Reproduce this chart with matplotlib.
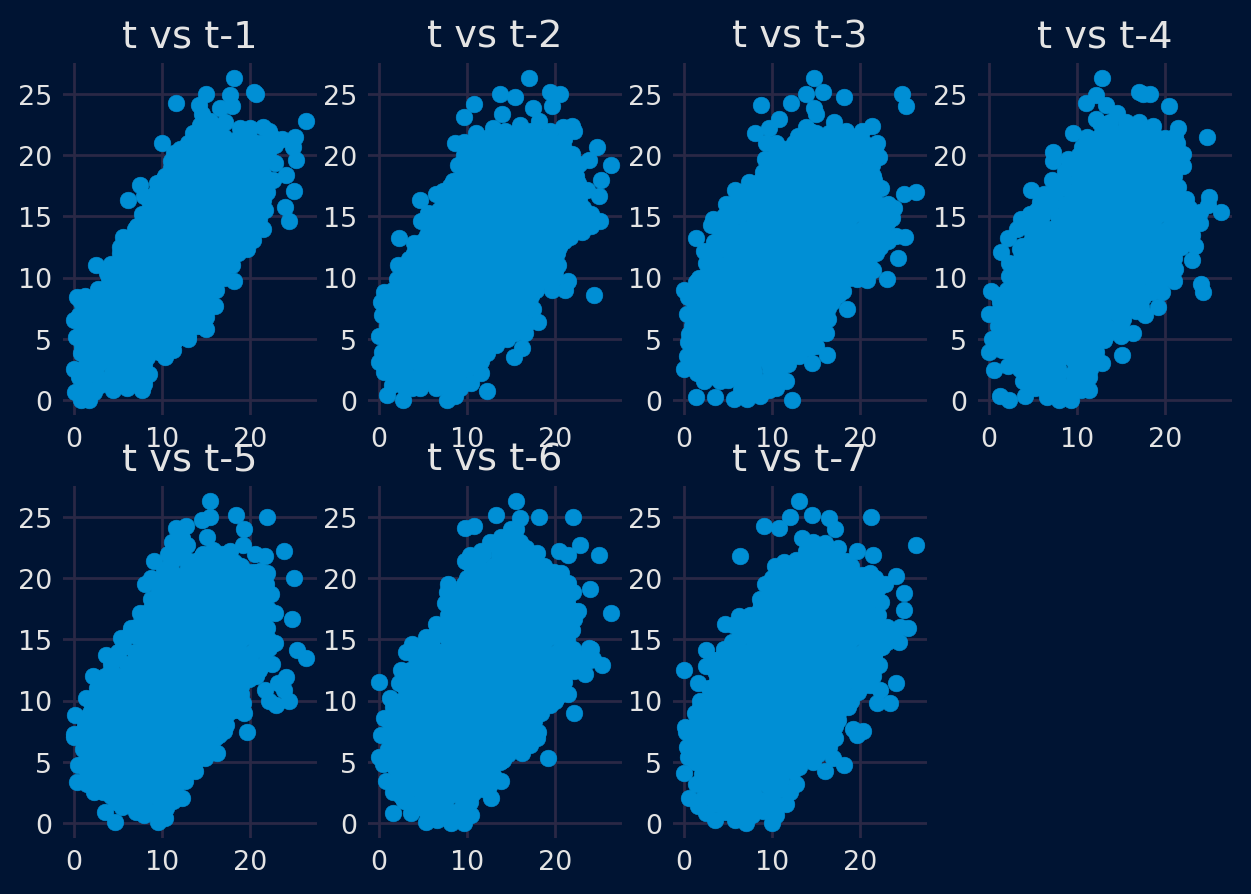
import numpy as np
import matplotlib
matplotlib.use("Agg")
import matplotlib.pyplot as plt

BG = '#001433'
GRID = '#2A2845'
TEXT = '#E4E4E4'
BLUE = '#008FD5'

# points hidden inside every cloud, estimated: (t-k, t)
core = [
    (5.7,2.1),(7.1,1.9),(8.0,2.2),
    (3.0,3.1),(4.5,2.9),(6.0,3.0),(7.6,3.1),
    (2.2,4.0),(3.7,4.1),(5.2,3.9),(6.8,4.0),(8.4,4.1),(9.6,3.9),
    (1.5,5.0),(3.0,5.1),(4.5,4.9),(6.0,5.0),(7.6,5.1),(9.1,5.0),(10.6,4.9),(11.6,5.0),
    (2.2,6.0),(3.7,5.9),(5.3,6.1),(6.8,6.0),(8.4,5.9),(9.9,6.0),(11.4,6.1),(12.6,6.0),
    (1.6,7.0),(3.1,7.1),(4.6,6.9),(6.1,7.0),(7.7,7.1),(9.2,7.0),(10.7,6.9),(12.2,7.0),(13.3,7.1),
    (2.2,8.0),(3.8,7.9),(5.4,8.1),(6.9,8.0),(8.4,7.9),(9.9,8.0),(11.4,8.1),(13.0,8.0),(14.0,7.9),
    (2.9,9.0),(4.5,9.1),(6.0,8.9),(7.6,9.0),(9.1,9.1),(10.6,9.0),(12.1,8.9),(13.7,9.0),(15.0,9.1),
    (4.0,10.0),(5.2,9.9),(6.8,10.1),(8.3,10.0),(9.8,9.9),(11.3,10.0),(12.9,10.1),(14.4,10.0),(15.6,9.9),
    (4.4,11.0),(5.9,11.1),(7.5,10.9),(9.0,11.0),(10.5,11.1),(12.0,11.0),(13.6,10.9),(15.1,11.0),(16.6,11.1),
    (5.2,12.0),(6.7,11.9),(8.2,12.1),(9.7,12.0),(11.2,11.9),(12.8,12.0),(14.3,12.1),(15.8,12.0),(17.3,11.9),
    (6.0,13.0),(7.5,13.1),(9.0,12.9),(10.5,13.0),(12.0,13.1),(13.5,13.0),(15.0,12.9),(16.5,13.0),(18.0,13.1),
    (6.9,14.0),(8.3,13.9),(9.8,14.1),(11.3,14.0),(12.8,13.9),(14.3,14.0),(15.8,14.1),(17.3,14.0),(18.8,13.9),
    (7.8,15.0),(9.1,15.1),(10.6,14.9),(12.1,15.0),(13.6,15.1),(15.1,15.0),(16.6,14.9),(18.1,15.0),(19.2,15.1),
    (8.6,16.0),(10.0,15.9),(11.5,16.1),(13.0,16.0),(14.5,15.9),(16.0,16.0),(17.5,16.1),(19.0,16.0),
    (9.3,17.0),(10.8,17.1),(12.3,16.9),(13.8,17.0),(15.3,17.1),(16.8,17.0),(18.3,16.9),(19.3,17.0),
    (10.1,18.0),(11.6,17.9),(13.1,18.1),(14.6,18.0),(16.1,17.9),(17.6,18.0),(19.1,18.1),
    (11.0,19.0),(12.4,19.1),(13.9,18.9),(15.4,19.0),(16.9,19.1),(18.4,19.0),(19.4,18.9),
    (11.6,20.0),(13.2,19.9),(14.7,20.1),(16.2,20.0),(17.7,19.9),(19.0,20.0),
    (13.0,21.0),(14.5,21.1),(16.0,20.9),(17.5,21.0),
]

core2 = [
    (4.8,2.5),(6.4,2.5),(7.8,2.6),
    (3.7,3.5),(5.3,3.5),(6.9,3.4),(8.3,3.5),
    (3.0,4.5),(4.5,4.5),(6.0,4.4),(7.6,4.5),(9.2,4.5),(10.4,4.6),
    (2.2,5.5),(3.7,5.5),(5.3,5.4),(6.8,5.5),(8.4,5.5),(9.9,5.6),(11.4,5.5),(12.4,5.5),
    (2.4,6.5),(3.9,6.5),(5.4,6.4),(7.0,6.5),(8.5,6.6),(10.0,6.5),(11.6,6.5),(13.0,6.4),
    (2.9,7.5),(4.5,7.5),(6.0,7.4),(7.6,7.5),(9.1,7.6),(10.6,7.5),(12.2,7.5),(13.6,7.4),
    (3.4,8.5),(5.0,8.5),(6.5,8.4),(8.0,8.5),(9.6,8.6),(11.1,8.5),(12.7,8.5),(14.2,8.4),(15.0,8.5),
    (4.0,9.5),(5.6,9.5),(7.1,9.4),(8.7,9.5),(10.2,9.6),(11.7,9.5),(13.3,9.5),(14.8,9.4),(15.5,9.5),
    (4.8,10.5),(6.3,10.5),(7.8,10.4),(9.4,10.5),(10.9,10.6),(12.4,10.5),(14.0,10.5),(15.5,10.4),(16.4,10.5),
    (5.6,11.5),(7.1,11.5),(8.6,11.4),(10.2,11.5),(11.7,11.6),(13.2,11.5),(14.8,11.5),(16.3,11.4),(17.2,11.5),
    (6.3,12.5),(7.8,12.5),(9.3,12.4),(10.9,12.5),(12.4,12.6),(13.9,12.5),(15.5,12.5),(17.0,12.4),(18.0,12.5),
    (7.1,13.5),(8.6,13.5),(10.1,13.4),(11.7,13.5),(13.2,13.6),(14.7,13.5),(16.3,13.5),(17.8,13.4),(18.6,13.5),
    (7.9,14.5),(9.4,14.5),(11.0,14.4),(12.5,14.5),(14.0,14.6),(15.6,14.5),(17.1,14.5),(18.6,14.4),
    (8.8,15.5),(10.2,15.5),(11.8,15.4),(13.3,15.5),(14.8,15.6),(16.4,15.5),(17.9,15.5),(19.2,15.4),
    (9.6,16.5),(11.0,16.5),(12.6,16.4),(14.1,16.5),(15.6,16.6),(17.2,16.5),(18.7,16.5),(19.3,16.4),
    (10.4,17.5),(11.9,17.5),(13.4,17.4),(14.9,17.5),(16.4,17.6),(18.0,17.5),(19.3,17.5),
    (11.3,18.5),(12.7,18.5),(14.2,18.4),(15.7,18.5),(17.3,18.6),(18.8,18.5),
    (12.0,19.5),(13.5,19.5),(15.0,19.4),(16.5,19.5),(18.0,19.6),(19.3,19.5),
    (12.8,20.5),(14.2,20.5),(15.8,20.4),(17.3,20.5),(18.8,20.6),
    (15.0,21.5),(16.5,21.5),
]

lag1 = [
    (18.2,26.3),(20.5,25.2),(20.7,25.0),(11.6,24.3),(15.0,25.0),(17.7,24.9),(18.0,24.0),(16.6,23.9),
    (14.2,24.1),(14.5,23.4),(15.4,22.8),(17.1,22.7),(26.3,22.8),(25.1,21.5),(23.6,21.3),(24.9,20.7),
    (25.2,19.6),(24.1,18.4),(25.0,17.1),(24.0,15.8),(24.4,14.6),(21.5,22.3),(22.2,22.0),(18.8,22.2),
    (20.0,22.2),(15.0,21.7),(13.3,21.1),(10.0,21.0),(11.4,20.2),(11.1,19.1),(9.4,17.7),(7.5,17.6),
    (8.0,16.7),(6.1,16.3),(7.7,15.2),(7.1,14.2),(5.6,13.3),(5.2,12.5),(4.2,11.1),(2.5,11.0),(3.7,10.4),
    (2.7,9.1),(1.3,8.5),(0.3,8.4),(0.8,8.0),(0.0,6.5),(0.2,5.1),(0.8,3.8),(0.0,2.5),(0.6,1.9),(0.1,0.6),
    (0.8,0.0),(1.7,0.0),(2.3,0.6),(4.4,0.8),(7.7,0.8),(8.5,2.1),(7.9,2.9),(10.3,3.5),(11.2,4.1),(13.0,5.2),
    (15.0,5.8),(16.0,7.7),(16.1,9.0),(18.2,9.7),(16.9,10.7),(19.7,12.3),(20.3,13.1),(21.5,14.0),(21.7,15.5),
    (21.9,17.0),(22.6,18.0),(22.8,19.4),(22.8,20.8),
    (1.5,1.0),(3.0,1.2),(1.0,2.5),(2.5,2.0),(4.0,1.5),(5.5,1.2),(7.0,1.5),(1.2,3.8),(0.8,5.5),(0.6,6.9),
    (1.3,8.0),(12.9,5.0),(14.0,6.0),(14.7,7.0),(15.3,8.0),(17.0,10.0),(18.0,11.0),(18.6,12.0),(19.3,13.1),
    (20.2,14.0),(20.5,15.0),(20.7,16.0),(21.0,17.0),(21.0,18.0),(21.0,19.0),(21.5,20.0),(21.0,21.0),
    (14.0,21.5),(15.5,21.8),(17.0,21.5),(18.5,21.3),(20.0,21.3),(21.5,21.0),(22.3,21.0),(19.5,14.5),
    (9.5,17.0),(10.3,18.3),(12.0,20.5),(11.0,19.5),(2.0,3.0),(4.3,2.2),
    (1.5,2.0),(3.0,3.0),(1.5,3.2),(0.9,4.4),(1.5,6.0),(2.2,7.4),(1.2,7.2),(2.8,1.8),(5.3,1.8),(6.0,1.0),(8.0,1.3),
    (9.8,4.4),(11.5,4.9),(13.0,5.8),(14.2,6.6),(15.0,6.8),(15.2,7.5),(15.3,8.5),(16.0,9.5),(16.6,10.3),(17.3,11.2),
    (18.0,11.8),(18.6,12.7),(19.3,13.7),(19.8,14.2),(20.2,15.5),(20.2,16.5),(20.3,17.5),(20.2,18.5),(20.3,19.5),
    (20.2,20.5),(19.5,21.3),(21.5,18.5),(21.7,19.5),(22.0,20.3),(21.8,17.5),(21.5,16.3),(21.0,14.8),(22.5,21.5),
    (19.8,19.8),(12.8,20.7),(13.5,21.8),(16.3,22.2),(16.5,21.0),(18.0,20.7),(14.3,22.5),
]

lag2 = [
    (17.0,26.3),(13.7,25.0),(15.5,24.8),(19.4,25.2),(20.6,25.0),(19.7,24.0),(17.5,23.9),(10.8,24.2),
    (9.6,23.1),(11.0,21.8),(8.6,21.0),(9.7,21.1),(14.0,23.4),(13.0,22.2),(16.0,22.5),(18.2,22.8),
    (19.4,22.0),(20.9,22.3),(21.9,22.4),(22.1,22.0),(21.9,20.1),(24.8,20.7),(23.9,19.6),(26.3,19.2),
    (25.2,18.0),(25.0,16.7),(23.6,17.2),(22.4,18.3),(24.1,15.2),(25.1,14.6),(24.1,14.2),(23.0,13.7),
    (21.7,13.3),(20.3,11.0),(21.5,9.7),(21.1,9.0),(19.7,9.0),(24.4,8.6),(18.1,6.4),(17.5,7.4),(16.6,5.5),
    (16.2,4.2),(15.3,3.5),(13.3,4.5),(11.6,3.2),(11.6,2.2),(10.4,1.4),(12.3,0.7),(8.6,0.3),(7.7,0.0),
    (6.5,1.0),(4.6,1.0),(2.7,0.0),(0.9,0.4),(0.6,2.3),(0.0,3.1),(0.3,3.9),(0.0,5.2),(0.3,6.9),(0.2,8.0),
    (0.6,8.8),(2.3,9.5),(2.2,11.0),(2.3,13.2),(4.0,12.8),(4.8,14.6),(4.6,16.3),(6.5,16.8),(7.3,17.1),
    (5.6,15.3),(9.0,19.2),(8.4,17.9),
    (2.0,2.0),(3.5,1.8),(1.5,1.2),(3.0,1.0),(5.0,2.2),(9.0,1.8),(10.0,2.5),(1.5,3.0),(9.5,3.0),(10.7,3.2),
    (1.0,4.2),(11.0,4.0),(12.2,4.3),(0.8,5.5),(13.0,5.0),(14.5,5.0),(15.5,5.5),(0.9,6.0),(14.0,6.0),
    (15.5,6.0),(16.8,6.3),(1.0,7.0),(14.7,7.0),(16.0,7.0),(1.0,8.0),(15.5,8.0),(17.0,8.0),(1.6,9.0),
    (16.4,9.0),(17.8,9.0),(2.8,10.0),(17.0,10.0),(18.5,10.0),(20.0,10.0),(3.2,11.0),(18.0,11.0),(19.5,11.0),
    (4.0,12.0),(18.7,12.0),(20.2,12.0),(5.0,13.0),(19.5,13.0),(21.0,13.0),(5.7,14.0),(20.2,14.0),(21.7,14.0),
    (23.0,14.4),(6.5,15.0),(20.6,15.0),(22.0,15.0),(23.4,15.3),(7.3,16.0),(20.5,16.0),(22.0,16.0),(8.0,17.0),
    (20.8,17.0),(22.3,17.0),(9.0,18.0),(20.5,18.0),(22.0,18.0),(9.7,19.0),(20.9,19.0),(22.3,19.0),(10.1,20.0),
    (20.5,20.0),(11.5,21.0),(18.7,21.0),(20.5,21.0),(14.3,22.0),(15.8,22.0),(17.3,22.0),(12.5,21.5),
    (2.7,1.2),(3.8,1.0),(4.5,1.8),(2.3,3.0),(3.0,2.4),(1.3,3.7),(0.9,4.6),(2.0,4.8),(1.0,6.5),(1.2,7.5),(1.0,8.4),
    (2.0,9.9),(2.6,10.8),(3.4,11.5),(4.3,12.5),(5.4,13.5),(6.0,14.5),(6.8,15.5),(7.4,16.5),(8.1,17.5),(9.6,18.5),
    (9.7,20.0),(10.8,20.6),(5.5,1.5),(7.7,1.0),(9.2,1.0),(9.5,2.5),(8.7,2.8),(10.0,3.5),(10.5,4.5),(11.5,5.0),
    (12.3,3.8),(13.5,5.5),(14.8,5.5),(14.8,6.5),(16.0,6.5),(15.2,7.5),(16.5,7.5),(15.8,8.5),(17.3,8.5),(16.5,9.5),
    (18.0,9.5),(19.3,9.7),(17.3,10.5),(18.8,10.5),(20.0,10.5),(18.0,11.5),(19.5,11.6),(19.0,12.5),(20.5,12.5),
    (19.7,13.5),(21.2,13.6),(22.3,13.9),(20.2,14.5),(21.8,14.5),(20.7,15.5),(22.3,15.5),(23.2,15.7),(21.2,16.4),
    (22.7,16.4),(21.3,17.5),(22.6,17.7),(21.2,18.5),(21.2,19.5),(22.7,19.3),(21.0,20.5),(19.5,20.5),(19.3,21.5),
    (21.0,21.3),(13.5,21.5),(15.0,21.5),(16.5,21.5),(18.0,21.6),(11.7,20.3),(11.0,19.8),(10.0,18.7),(12.7,20.7),
]

lag3 = [
    (14.8,26.3),(15.8,25.2),(13.9,25.0),(18.2,24.8),(12.1,24.3),(8.8,24.1),(24.8,25.0),(25.2,24.0),
    (14.8,23.9),(15.0,23.4),(10.8,23.0),(9.7,22.2),(8.1,21.8),(9.3,21.0),(21.3,22.4),(20.2,22.0),(17.0,22.7),
    (18.4,22.0),(13.9,22.3),(21.9,21.0),(22.1,19.9),(21.5,18.3),(22.4,17.3),(25.0,16.8),(26.3,17.0),(23.9,15.7),
    (23.6,14.9),(24.1,13.4),(25.1,13.3),(24.3,11.6),(23.0,9.9),(21.5,10.6),(20.8,9.8),(19.6,9.9),(18.1,8.9),
    (18.5,7.4),(16.4,7.5),(16.3,6.6),(16.1,5.5),(16.2,3.7),(15.0,4.4),(14.5,3.0),(13.1,3.6),(11.8,2.9),(11.6,1.5),
    (12.3,0.0),(9.7,0.8),(8.6,0.3),(7.2,0.1),(5.7,0.1),(3.5,0.2),(1.4,0.2),(4.1,1.5),(2.3,1.5),(6.5,0.8),(0.0,2.5),
    (0.3,3.6),(0.5,4.7),(0.6,5.4),(0.3,7.0),(0.0,9.0),(0.5,8.4),(1.4,9.6),(2.5,11.2),(2.3,12.2),(1.4,13.2),
    (3.4,12.9),(3.1,14.3),(3.3,14.8),(4.8,16.0),(5.8,17.2),(7.4,17.8),(9.5,18.9),(9.2,19.7),
    (1.5,3.0),(2.5,2.3),(4.2,2.4),(1.7,4.5),(3.5,1.9),(0.8,2.8),(9.5,1.6),(9.8,2.5),(10.8,2.2),(9.5,3.1),(11.0,3.3),
    (10.8,4.2),(12.2,4.2),(13.5,4.5),(12.6,5.2),(14.0,5.0),(15.2,5.5),(14.0,6.0),(15.4,6.2),(14.8,7.0),(16.0,7.2),
    (15.3,8.0),(16.8,8.0),(16.5,9.0),(17.5,9.4),(17.2,10.0),(18.7,10.0),(18.0,11.0),(19.5,11.0),(21.0,11.0),
    (18.8,12.0),(20.3,12.0),(21.8,12.0),(22.5,12.8),(19.5,13.0),(21.0,13.0),(22.8,13.5),(20.2,14.0),(21.7,14.0),
    (23.0,14.5),(20.6,15.0),(22.1,15.0),(20.5,16.0),(22.0,16.0),(23.2,16.0),(20.8,17.0),(21.5,17.0),(20.5,18.0),
    (20.9,19.0),(20.5,20.0),(19.0,21.0),(20.5,21.0),(18.0,21.8),(16.5,21.8),(15.0,21.8),(12.5,21.0),(11.0,20.5),
    (0.9,6.0),(1.0,7.2),(1.1,8.0),(2.0,9.0),(2.6,10.3),(3.8,11.0),(3.7,12.2),(4.0,13.0),(5.0,13.0),(4.0,14.0),
    (5.5,14.0),(4.5,15.0),(6.3,15.0),(5.5,16.0),(7.2,16.0),(6.5,17.0),(8.0,17.0),(8.8,18.0),(9.9,19.4),(10.3,20.0),
    (10.5,21.0),
    (1.5,2.2),(1.0,3.3),(2.5,3.3),(1.5,3.9),(3.3,2.8),(5.0,1.6),(6.5,1.5),(8.0,1.0),(9.0,1.4),(10.5,1.0),(2.0,5.3),
    (1.6,6.0),(1.4,6.9),(1.8,7.7),(1.2,8.9),(2.5,9.3),(1.7,10.0),(2.9,10.9),(3.1,11.8),(4.2,13.5),(4.9,14.5),(5.5,15.1),
    (6.3,16.2),(7.3,16.9),(7.8,17.5),(9.0,18.6),(10.0,19.0),(9.9,3.7),(10.9,4.9),(12.0,3.6),(13.2,5.7),(14.6,5.7),
    (14.2,4.2),(14.6,6.6),(15.6,7.9),(15.0,7.6),(16.2,8.5),(17.5,8.6),(16.5,9.8),(18.0,9.8),(18.2,10.6),(19.8,10.5),
    (20.5,11.6),(19.3,12.6),(20.9,12.6),(22.3,12.5),(20.0,13.6),(21.6,13.4),(23.2,13.0),(22.5,14.4),(21.1,14.5),
    (21.5,15.5),(22.8,15.4),(21.5,16.5),(20.5,17.5),(21.6,18.0),(21.3,19.2),(21.0,20.0),(21.7,20.5),(20.0,20.5),
    (19.5,21.5),(17.2,21.2),(15.7,21.0),(14.3,22.0),(13.0,21.6),(11.5,20.5),(12.0,19.9),
]

lag4 = [
    (12.8,26.3),(12.1,24.9),(11.0,24.3),(12.1,23.0),(13.3,24.1),(14.5,23.5),(17.0,25.2),(17.5,25.0),(18.3,25.0),
    (20.4,24.0),(9.5,21.8),(11.1,21.5),(7.3,20.3),(7.3,19.5),(9.0,19.7),(7.1,18.0),(4.8,17.2),(6.3,16.8),(4.6,15.2),
    (3.6,14.8),(3.2,14.0),(2.2,13.2),(1.4,12.1),(3.5,12.3),(2.3,11.2),(2.3,10.1),(0.2,8.9),(1.0,8.6),(0.0,7.0),
    (0.3,5.0),(0.0,3.9),(0.6,2.4),(2.2,2.8),(1.5,4.1),(1.3,0.3),(2.3,0.0),(4.1,0.3),(4.2,1.5),(5.2,1.0),(6.6,0.2),
    (8.0,0.0),(9.3,0.0),(11.4,0.8),(11.4,1.9),(12.8,3.0),(15.1,3.7),(12.2,3.9),(13.1,4.9),(15.0,5.2),(16.3,5.5),
    (17.7,6.9),(19.2,7.6),(16.7,7.3),(19.6,8.8),(17.9,8.8),(21.0,9.7),(21.1,10.7),(24.1,9.5),(24.3,8.8),(23.0,11.4),
    (23.4,12.6),(24.0,14.5),(24.8,21.5),(25.0,16.6),(26.3,15.4),(24.9,15.9),(22.4,16.4),(21.5,17.4),(22.0,19.1),
    (22.0,20.1),(21.3,21.0),(21.5,22.2),(21.1,21.6),(20.3,20.4),(18.6,22.4),(18.3,22.0),(17.0,22.7),(15.6,22.7),
    (18.3,20.5),(13.7,22.7),(12.6,21.6),
    (3.5,2.5),(3.2,3.5),(2.8,4.5),(1.5,5.3),(1.0,6.0),(1.0,7.2),(1.2,8.0),(2.0,9.0),(2.9,10.0),(3.4,11.0),(3.8,12.0),
    (4.8,13.0),(5.5,14.0),(6.0,15.0),(7.0,16.0),(7.6,17.0),(8.5,18.0),(9.5,19.0),(10.2,20.0),(11.0,21.0),
    (5.5,1.8),(4.3,2.3),(6.8,1.0),(8.2,1.2),(9.7,1.0),(10.3,1.9),(9.5,2.2),(10.9,2.9),(9.6,3.2),(11.0,4.1),(12.3,5.2),
    (13.6,5.9),(15.0,6.2),(14.5,7.0),(15.5,8.0),(16.8,8.0),(16.4,9.0),(17.0,10.0),(18.5,9.8),(20.0,10.0),(18.0,11.0),
    (19.5,11.0),(21.0,11.6),(18.8,12.0),(20.3,12.5),(21.8,12.5),(19.5,13.0),(21.0,13.4),(22.5,13.4),(20.2,14.0),
    (21.7,14.2),(23.0,14.2),(20.6,15.0),(22.1,15.0),(23.4,15.3),(20.5,16.0),(22.0,16.0),(20.8,17.0),(20.5,18.0),
    (20.9,19.0),(20.5,20.0),(18.7,21.0),(20.0,21.4),(17.5,21.8),(16.0,21.8),(14.5,21.8),(12.5,21.0),(11.0,20.5),
    (3.9,1.5),(6.0,1.0),(7.4,0.9),(8.8,0.7),(10.5,0.8),(9.6,1.5),(10.7,2.5),(3.7,3.0),(2.4,3.9),(2.2,5.4),(1.6,5.9),
    (1.8,6.6),(1.7,7.6),(2.6,8.5),(2.7,9.5),(3.3,10.5),(3.6,11.6),(3.7,12.6),(4.7,12.5),(5.0,13.5),(4.6,14.0),(5.7,14.5),
    (6.2,15.5),(5.5,15.5),(5.8,16.2),(7.3,16.8),(8.0,17.5),(8.6,18.7),(10.0,19.0),(10.6,20.7),(10.5,3.5),(11.5,2.5),
    (11.8,3.0),(12.0,4.6),(13.4,5.4),(14.5,5.6),(15.2,6.6),(14.7,7.5),(16.0,7.5),(17.3,7.6),(15.9,8.5),(17.5,8.4),
    (16.8,9.3),(18.5,8.8),(19.3,9.5),(17.5,10.4),(19.3,10.5),(20.7,10.5),(18.5,11.5),(20.0,11.6),(19.3,12.7),(20.8,12.5),
    (20.0,13.6),(22.0,12.9),(23.0,13.5),(21.0,14.5),(22.5,14.7),(23.5,14.5),(21.2,15.5),(22.7,15.7),(24.0,15.4),
    (21.3,16.5),(20.8,17.5),(21.0,18.3),(21.2,19.5),(21.2,20.3),(19.5,20.3),(19.0,21.5),(17.0,21.3),(15.5,21.5),
    (14.0,21.4),(13.0,21.8),(11.8,20.7),(12.6,22.6),
]

lag5 = [
    (15.4,26.3),(14.5,24.8),(15.5,25.0),(18.4,25.2),(19.3,24.0),(21.9,25.0),(15.1,23.4),(19.2,22.7),(20.6,22.0),
    (21.7,21.8),(23.9,22.2),(25.0,20.0),(24.8,16.7),(25.3,14.1),(26.3,13.5),(24.1,11.9),(23.2,11.4),(23.9,10.9),
    (24.4,10.0),(22.9,9.6),(22.2,10.0),(21.7,10.9),(19.3,9.0),(18.3,9.2),(19.2,9.8),(19.7,7.4),(17.0,7.5),(16.2,5.7),
    (14.9,5.3),(13.7,4.2),(12.6,3.4),(12.3,2.0),(10.3,0.4),(9.5,0.1),(8.0,0.6),(6.7,1.4),(4.6,0.1),(3.5,0.9),(5.4,1.3),
    (2.3,2.5),(0.3,3.3),(0.4,4.7),(0.0,7.3),(0.0,7.0),(0.1,8.8),(1.4,10.2),(2.2,12.0),(3.6,13.7),(5.3,15.1),(6.5,15.9),
    (7.5,17.2),(8.7,18.3),(8.1,19.5),(8.8,20.0),(9.1,21.4),(10.7,22.0),(11.1,23.0),(11.6,24.1),(12.7,24.3),(12.8,22.7),
    (14.1,21.5),(15.8,22.3),(17.7,22.2),(18.6,20.8),(21.9,20.4),(21.1,20.6),(22.4,18.7),(22.8,17.2),(20.2,19.2),
    (22.8,14.7),(22.5,13.0),(21.9,15.9),(21.7,17.0),
    (1.5,3.2),(3.3,2.5),(1.2,5.0),(1.0,6.0),(1.0,7.2),(1.2,8.2),(1.8,9.0),(2.8,10.0),(2.6,11.0),(3.5,12.0),(4.2,13.0),
    (5.0,14.0),(5.7,15.0),(7.0,16.0),(7.9,17.0),(9.0,18.0),(9.6,19.0),(10.0,20.0),(10.8,21.0),(12.0,22.0),(11.5,22.2),
    (4.8,1.7),(4.2,2.2),(4.6,3.0),(6.5,1.8),(8.0,1.5),(9.5,1.0),(10.5,1.2),(9.5,2.0),(10.9,2.2),(11.2,1.8),(9.5,3.0),
    (11.0,3.2),(11.0,4.0),(12.0,4.0),(12.5,5.0),(13.7,5.0),(14.0,6.0),(15.2,6.1),(14.8,7.0),(16.0,6.9),(15.3,8.0),
    (16.9,8.3),(16.4,9.0),(17.5,9.0),(17.0,10.0),(18.5,10.2),(18.0,11.0),(19.0,11.2),(18.8,12.0),(19.9,11.8),(19.5,13.0),
    (21.0,12.5),(20.2,14.0),(21.7,14.0),(20.6,15.0),(22.0,15.0),(20.5,16.0),(20.8,17.0),(20.5,18.0),(21.5,18.0),
    (20.9,19.0),(21.8,19.5),(20.5,20.0),(19.0,21.0),(17.5,21.5),(16.0,21.5),(14.5,21.8),
    (2.5,3.5),(1.5,4.2),(2.5,4.5),(1.5,6.0),(2.0,5.5),(1.5,7.0),(2.0,7.6),(1.0,7.5),(2.6,8.5),(2.0,9.6),(3.1,9.6),(3.3,10.5),
    (3.5,11.2),(4.3,11.9),(4.2,12.5),(5.0,13.5),(5.6,14.4),(6.4,15.5),(7.0,15.3),(7.9,16.4),(8.6,17.4),(9.8,18.4),(9.3,19.6),
    (10.5,19.5),(10.2,20.7),(11.2,21.5),(11.2,20.4),(12.8,21.5),(13.5,21.0),(12.3,23.3),(11.9,23.3),(5.5,2.4),(5.8,2.0),
    (7.0,0.9),(7.8,2.0),(9.0,0.9),(9.0,2.4),(10.4,2.7),(11.5,2.7),(11.7,3.5),(12.3,4.5),(13.0,4.8),(13.3,5.7),(14.6,5.7),
    (14.8,6.5),(15.5,6.3),(15.3,7.5),(16.5,7.2),(16.0,8.5),(17.3,8.0),(16.7,9.5),(18.2,9.9),(17.5,10.5),(19.0,10.5),(18.3,11.5),
    (18.8,11.8),(19.2,12.5),(20.7,12.0),(20.0,13.5),(21.6,13.0),(21.0,14.5),(22.2,14.3),(21.3,15.5),(21.0,16.5),(21.6,16.3),
    (20.8,17.5),(22.0,17.5),(21.2,18.5),(21.0,19.7),(19.7,20.5),(20.3,20.5),(18.2,21.3),(17.0,21.0),(15.3,21.0),(16.8,22.0),(14.6,22.0),
]

lag6 = [
    (15.6,26.3),(13.3,25.2),(16.0,24.9),(18.2,25.0),(22.0,25.0),(15.6,24.0),(10.8,24.3),(9.8,24.1),(22.8,22.7),(25.0,21.9),
    (21.5,21.9),(20.5,22.2),(24.0,19.1),(26.3,17.2),(22.6,17.3),(22.0,18.9),(21.5,19.6),(20.7,20.4),(18.0,22.1),(16.7,22.5),
    (13.9,23.4),(12.6,23.0),(15.0,24.0),(11.6,22.2),(10.3,21.9),(9.8,21.4),(9.6,19.5),(7.8,19.5),(7.5,18.0),(7.7,18.9),
    (6.5,16.3),(5.3,15.2),(3.7,14.6),(3.1,14.0),(2.5,12.5),(2.3,11.4),(0.0,11.5),(1.3,10.2),(0.6,8.6),(0.2,7.2),(0.0,5.4),
    (0.4,4.8),(0.8,3.4),(1.6,2.5),(1.6,0.8),(3.6,0.8),(5.3,0.1),(6.6,0.2),(8.2,0.0),(9.6,0.0),(10.5,0.6),(10.3,1.7),(12.7,2.0),
    (13.9,3.4),(11.8,2.8),(14.1,5.1),(16.2,5.7),(19.2,5.3),(17.9,6.9),(18.1,7.4),(17.1,6.4),(18.4,9.0),(19.4,9.6),(21.5,10.5),
    (22.2,9.0),(20.5,11.3),(22.2,12.4),(23.4,12.2),(25.3,12.9),(24.1,14.2),(23.8,14.3),(22.0,14.2),(21.9,15.8),(22.2,16.7),
    (2.0,3.5),(3.2,2.5),(2.5,2.2),(4.2,1.5),(1.8,4.5),(1.0,6.0),(1.0,7.2),(1.2,8.2),(1.8,9.0),(2.5,10.0),(3.0,11.0),(3.8,12.0),
    (4.5,13.0),(5.0,14.0),(6.0,15.0),(7.2,16.0),(7.8,17.0),(8.8,18.0),(9.2,19.0),(10.0,20.0),(10.5,21.0),(11.8,22.0),
    (6.2,1.2),(7.6,1.2),(9.0,1.0),(9.5,1.8),(9.5,3.0),(11.0,3.2),(11.7,4.0),(12.5,4.5),(12.5,5.0),(13.7,5.0),(14.0,6.0),
    (15.4,6.3),(14.8,7.0),(16.2,7.0),(15.4,8.0),(17.0,8.0),(16.4,9.0),(17.5,9.0),(17.0,10.0),(18.6,10.0),(20.0,10.0),(18.0,11.0),
    (19.3,11.0),(18.8,12.0),(20.3,12.0),(21.0,12.4),(19.5,13.0),(21.0,13.0),(22.5,13.2),(24.0,13.3),(20.2,14.0),(21.5,14.0),
    (23.0,13.5),(20.6,15.0),(21.3,15.0),(20.5,16.0),(20.8,17.0),(21.7,17.5),(20.5,18.0),(21.3,18.2),(20.7,19.0),(20.0,20.0),
    (18.7,21.0),(17.0,21.5),(15.5,21.8),(14.0,22.0),(14.5,22.8),(16.0,23.0),(13.5,22.5),(17.5,22.0),(15.5,23.0),(11.2,21.0),
    (12.0,20.5),
    (2.4,3.0),(2.8,1.8),(3.5,1.5),(5.0,1.2),(5.5,0.9),(7.2,0.7),(8.8,0.5),(10.0,1.0),(2.7,3.9),(1.3,5.2),(1.9,5.5),(1.8,6.4),
    (1.9,7.5),(1.4,7.3),(2.4,8.5),(1.6,9.5),(2.6,9.7),(3.3,10.5),(3.4,11.3),(3.5,12.5),(4.3,12.2),(4.2,13.5),(5.4,13.5),(4.8,14.5),
    (6.0,14.5),(6.5,15.5),(7.5,15.4),(8.0,16.5),(8.3,17.5),(9.4,18.0),(10.2,19.0),(10.7,20.0),(11.2,21.5),(9.5,2.4),(10.7,2.4),
    (10.7,3.7),(12.0,3.5),(12.5,3.0),(13.0,3.9),(13.2,5.6),(14.7,5.6),(15.0,6.7),(16.5,6.3),(15.3,7.6),(16.8,7.5),(15.9,8.5),
    (17.6,8.3),(16.7,9.5),(18.2,9.5),(17.5,10.5),(19.3,10.4),(20.3,10.4),(18.3,11.5),(19.6,11.7),(21.0,11.5),(19.2,12.5),(20.7,12.5),
    (20.0,13.5),(21.5,13.6),(23.0,13.0),(24.3,13.4),(21.0,14.5),(20.9,15.5),(20.9,16.5),(21.1,17.5),(20.8,18.5),(21.0,19.2),
    (19.9,20.5),(19.5,19.7),(18.2,20.7),(16.5,22.2),(15.0,22.5),(13.6,21.8),(14.6,21.4),(16.2,21.2),(17.8,21.3),
]

lag7 = [
    (13.1,26.3),(12.0,25.0),(14.5,25.2),(16.5,24.9),(17.2,24.0),(21.2,25.0),(10.8,24.1),(9.1,24.3),(13.4,23.3),(14.7,23.0),
    (16.0,22.9),(6.4,21.8),(26.3,22.7),(17.5,22.5),(19.7,22.2),(21.5,21.9),(18.4,21.4),(24.1,20.2),(25.0,18.8),(25.0,17.4),
    (22.8,19.5),(25.4,15.9),(24.4,14.8),(23.0,14.8),(22.4,18.1),(22.0,17.0),(21.1,20.4),(20.2,20.3),(21.7,20.0),(24.1,11.4),
    (22.2,12.9),(22.3,10.9),(23.4,9.8),(21.9,9.8),(21.1,11.3),(19.8,10.7),(18.6,9.5),(19.2,7.7),(19.6,7.2),(20.3,7.5),(17.2,7.9),
    (17.1,6.9),(16.5,6.2),(18.2,4.7),(16.9,5.3),(16.0,4.2),(14.7,5.0),(13.1,4.6),(12.7,3.2),(11.6,1.5),(10.5,0.6),(10.0,0.0),
    (8.6,1.9),(7.7,0.6),(7.0,0.0),(5.8,0.2),(4.6,0.9),(3.5,0.2),(2.5,0.8),(1.6,1.4),(0.6,2.0),(2.2,2.0),(1.4,3.2),(0.0,4.1),
    (0.5,5.4),(0.3,6.2),(0.2,7.4),(0.1,7.8),(1.3,9.0),(1.8,10.0),(1.6,11.4),(0.0,12.5),(2.5,12.8),(2.5,14.1),(4.5,14.2),(4.6,16.3),
    (6.3,16.9),(5.6,16.2),(5.4,14.8),(3.5,12.4),(8.6,18.3),(9.2,19.5),(10.3,21.0),(11.4,21.3),(12.7,21.5),(15.0,22.3),
    (2.5,3.0),(3.3,2.0),(2.0,4.0),(1.2,5.0),(1.0,6.5),(1.2,8.0),(2.0,9.0),(2.5,10.0),(2.8,11.0),(3.8,12.0),(4.5,13.0),(5.7,14.0),
    (6.3,15.0),(7.2,16.0),(7.5,17.0),(8.6,17.5),(9.5,18.5),(10.0,20.0),(4.4,1.8),(6.5,1.2),(8.0,1.5),(9.5,1.8),(10.5,1.5),(9.5,3.0),
    (11.0,2.8),(11.0,4.0),(12.4,4.2),(12.6,5.0),(14.0,6.0),(15.5,6.0),(14.8,7.0),(16.0,7.5),(15.4,8.0),(17.0,8.6),(16.4,9.0),
    (17.5,9.0),(17.0,10.0),(18.6,10.3),(18.0,11.0),(19.7,11.4),(18.8,12.0),(20.3,12.0),(21.5,12.0),(19.5,13.0),(21.0,13.0),
    (20.2,14.0),(21.7,14.0),(20.6,15.0),(22.0,15.0),(23.6,15.5),(24.5,16.0),(20.5,16.0),(22.0,16.0),(23.0,15.7),(20.8,17.0),
    (20.5,18.0),(21.5,18.5),(20.9,19.0),(22.0,19.2),(20.5,20.0),(19.0,21.0),(17.5,21.5),(16.0,21.7),(14.5,21.8),(18.5,20.5),(13.5,21.0),
    (3.0,3.7),(3.3,2.9),(2.3,5.3),(1.4,6.0),(1.7,7.0),(2.0,7.7),(2.6,8.5),(1.8,9.5),(3.1,9.6),(3.4,10.7),(3.5,11.3),(3.4,13.3),
    (4.4,12.4),(5.0,13.5),(4.2,13.5),(5.8,14.5),(6.4,15.5),(6.7,16.2),(7.8,16.5),(7.8,16.9),(8.8,18.0),(10.0,19.0),(10.7,20.0),
    (3.5,1.5),(5.0,1.8),(5.5,1.0),(6.8,0.9),(7.6,1.3),(9.0,1.0),(9.7,1.4),(10.0,2.3),(9.7,3.5),(11.0,3.5),(12.0,2.5),(11.3,4.6),
    (12.3,5.2),(13.5,5.6),(15.2,5.6),(14.7,6.5),(16.0,6.7),(15.3,7.5),(16.5,7.8),(15.9,8.5),(17.5,8.4),(16.8,9.6),(17.5,10.5),
    (19.0,10.0),(18.4,11.5),(20.2,11.2),(19.2,12.5),(20.6,12.6),(20.0,13.5),(21.6,13.5),(21.0,14.5),(22.5,14.4),(21.2,15.5),
    (22.5,15.5),(21.3,16.5),(23.0,16.0),(20.8,17.5),(21.1,18.2),(21.3,19.5),(19.6,19.6),(20.0,19.0),(18.6,19.8),(17.0,21.0),
    (15.7,21.3),(14.0,21.5),(13.8,22.2),(16.5,22.0),(12.0,20.5),(11.2,20.5),
]

titles = ['t vs t-1', 't vs t-2', 't vs t-3', 't vs t-4', 't vs t-5', 't vs t-6', 't vs t-7']
panels = [lag1, lag2, lag3, lag4, lag5, lag6, lag7]
ticks_x = [0, 10, 20]
ticks_y = [0, 5, 10, 15, 20, 25]

W, H = 1251, 895
lefts = [63, 368, 673, 978]
tops = [64, 487]
aw, ah = 254, 352

plt.rcParams['font.family'] = 'DejaVu Sans'
fig = plt.figure(figsize=(W / 200, H / 200), dpi=200, facecolor=BG)

for i in range(7):
    col = i % 4
    row = i // 4
    ax = fig.add_axes([lefts[col] / W, 1 - (tops[row] + ah) / H, aw / W, ah / H], facecolor=BG)
    pts = np.array(core + core2 + panels[i])
    ax.scatter(pts[:, 0], pts[:, 1], s=36, c=BLUE, linewidths=0.2, edgecolors=BLUE, zorder=3)
    ax.set_xlim(-1.25, 27.6)
    ax.set_ylim(-1.25, 27.55)
    ax.set_xticks(ticks_x)
    ax.set_yticks(ticks_y)
    ax.grid(True, color=GRID, lw=1.0)
    ax.set_axisbelow(True)
    for s in ax.spines.values():
        s.set_visible(False)
    ax.tick_params(length=0, labelsize=9.7, labelcolor=TEXT, pad=4)
    ax.set_title(titles[i], color=TEXT, fontsize=13.8, pad=6)

fig.savefig('out.png', dpi=200, facecolor=BG)
